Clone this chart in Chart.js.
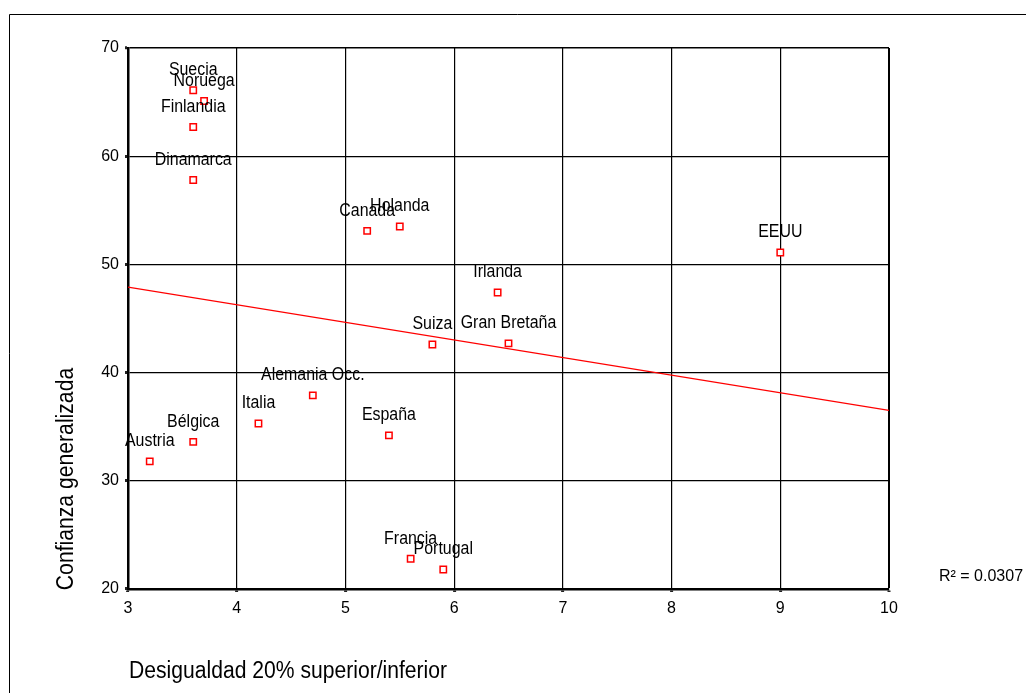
<!DOCTYPE html>
<html>
<head>
<meta charset="utf-8">
<script src="https://cdn.jsdelivr.net/npm/chart.js@4.4.1/dist/chart.umd.min.js"></script>
<style>
  html, body { margin: 0; padding: 0; background: #fff; }
  #wrap { width: 1026px; height: 693px; position: relative; }
</style>
</head>
<body>
<div id="wrap"><canvas id="c" width="1026" height="693"></canvas></div>
<script>
const countries = ["Suecia","Noruega","Finlandia","Dinamarca","Canada","Holanda","EEUU","Irlanda","Suiza","Gran Bretaña","Alemania Occ.","Italia","España","Bélgica","Austria","Francia","Portugal"];
const desigualdad = [3.6, 3.7, 3.6, 3.6, 5.2, 5.5, 9.0, 6.4, 5.8, 6.5, 4.7, 4.2, 5.4, 3.6, 3.2, 5.6, 5.9];
const confianza = [66.1, 65.1, 62.7, 57.8, 53.1, 53.5, 51.1, 47.4, 42.6, 42.7, 37.9, 35.3, 34.2, 33.6, 31.8, 22.8, 21.8];
const fitX = [3, 10];
const fitY = [47.9, 36.5];
const xTicks = [3, 4, 5, 6, 7, 8, 9, 10];
const yTicks = [20, 30, 40, 50, 60, 70];
const xTitle = "Desigualdad 20% superior/inferior";
const yTitle = "Confianza generalizada";
const r2Text = "R² = 0.0307";

const FONT = '"Liberation Sans", Arial, sans-serif';

function condensedText(ctx, text, x, y, size, sx, align, rot) {
  ctx.save();
  ctx.translate(x, y);
  if (rot) ctx.rotate(rot);
  ctx.scale(sx, 1);
  ctx.font = size + 'px ' + FONT;
  ctx.textAlign = align;
  ctx.textBaseline = 'middle';
  ctx.fillText(text, 0, 0);
  ctx.restore();
}

const labelPlugin = {
  id: 'labels',
  beforeDraw(chart) {
    const ctx = chart.ctx;
    ctx.save();
    ctx.strokeStyle = '#000';
    ctx.lineWidth = 1;
    ctx.beginPath();
    ctx.moveTo(9.5, chart.height);
    ctx.lineTo(9.5, 14.5);
    ctx.lineTo(chart.width, 14.5);
    ctx.stroke();
    ctx.restore();
  },
  afterDatasetsDraw(chart) {
    const ctx = chart.ctx;
    const meta = chart.getDatasetMeta(0);
    ctx.save();
    ctx.fillStyle = '#000';
    meta.data.forEach((pt, i) => {
      condensedText(ctx, countries[i], pt.x, pt.y - 20, 17.5, 0.91, 'center', 0);
    });
    condensedText(ctx, xTitle, 129, 672, 23, 0.918, 'left', 0);
    condensedText(ctx, yTitle, 67, 479, 23, 0.92, 'center', -Math.PI / 2);
    ctx.font = '16px ' + FONT;
    ctx.textAlign = 'left';
    ctx.textBaseline = 'middle';
    ctx.fillText(r2Text, 939, 577);
    ctx.restore();
  }
};

new Chart(document.getElementById('c'), {
  type: 'scatter',
  data: {
    datasets: [
      {
        data: desigualdad.map((x, i) => ({ x: x, y: confianza[i] })),
        pointStyle: 'rect',
        pointRadius: 4.5,
        pointHoverRadius: 4.5,
        borderColor: '#ff0000',
        backgroundColor: '#ffffff',
        borderWidth: 1.5,
        order: 1
      },
      {
        data: fitX.map((x, i) => ({ x: x, y: fitY[i] })),
        showLine: true,
        pointRadius: 0,
        borderColor: '#ff0000',
        borderWidth: 1.2,
        order: 2
      }
    ]
  },
  options: {
    responsive: false,
    animation: false,
    events: [],
    layout: { padding: { left: 0, top: 48, right: 137, bottom: 0 } },
    plugins: { legend: { display: false }, tooltip: { enabled: false } },
    scales: {
      x: {
        type: 'linear',
        min: 3, max: 10,
        afterBuildTicks(scale) { scale.ticks = xTicks.map(v => ({ value: v })); },
        afterFit(scale) { scale.height = 104; },
        grid: {
          color: '#000',
          lineWidth: (c) => (c.tick && c.tick.value === 10 ? 2 : 1.2),
          drawTicks: true,
          tickLength: 3,
          tickWidth: 3,
          tickColor: '#222'
        },
        border: { display: true, color: '#000', width: 2.5 },
        ticks: { color: '#000', font: { family: FONT, size: 16 }, padding: 7, maxRotation: 0 }
      },
      y: {
        type: 'linear',
        min: 20, max: 70,
        afterBuildTicks(scale) { scale.ticks = yTicks.map(v => ({ value: v })); },
        afterFit(scale) { scale.width = 128; },
        grid: {
          color: '#000',
          lineWidth: (c) => (c.tick && c.tick.value === 70 ? 1.5 : 1.2),
          drawTicks: true,
          tickLength: 3,
          tickWidth: 3,
          tickColor: '#222'
        },
        border: { display: true, color: '#000', width: 2.5 },
        ticks: { color: '#000', font: { family: FONT, size: 16 }, padding: 6 }
      }
    }
  },
  plugins: [labelPlugin]
});
</script>
</body>
</html>
